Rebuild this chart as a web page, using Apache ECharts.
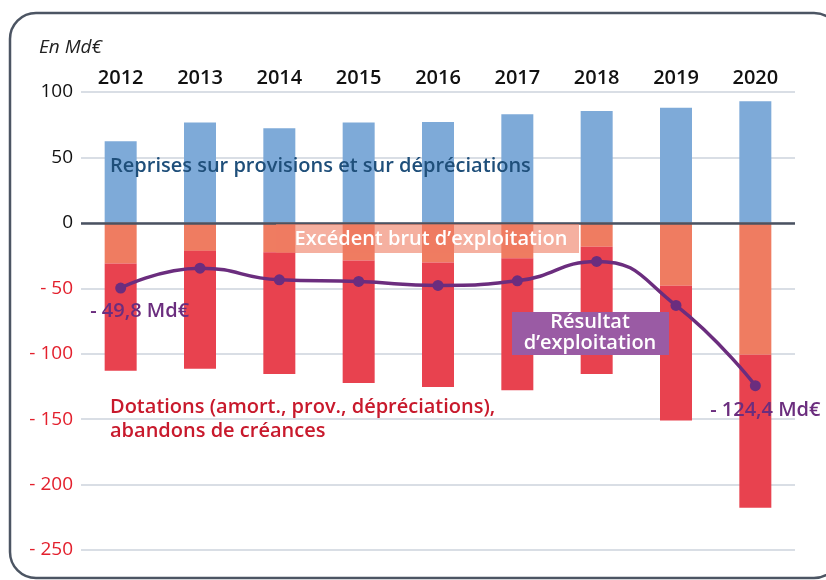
<!DOCTYPE html>
<html>
<head>
<meta charset="utf-8">
<script src="https://cdn.jsdelivr.net/npm/echarts@6/dist/echarts.min.js"></script>
<style>
  html, body { margin: 0; padding: 0; background: #fff; }
  #chart { width: 826px; height: 580px; }
</style>
</head>
<body>
<div id="chart"></div>
<script>
// Years shown along the top axis
const years = ['2012', '2013', '2014', '2015', '2016', '2017', '2018', '2019', '2020'];
// Reprises sur provisions et sur dépréciations (Md€)
const reprises = [62.4, 76.6, 72.3, 76.6, 77.1, 83.0, 85.5, 88.0, 92.9];
// Excédent brut d'exploitation (Md€)
const ebe = [-31.0, -21.4, -22.4, -28.8, -30.3, -27.0, -18.3, -48.1, -100.8];
// Dotations (amort., prov., dépréciations), abandons de créances (Md€)
const dotations = [-82.0, -90.1, -93.1, -93.6, -95.1, -101.0, -97.2, -102.9, -117.0];
// Résultat d'exploitation (Md€)
const resultat = [-49.8, -34.6, -43.5, -44.8, -47.8, -44.3, -29.5, -63.1, -124.4];
// Value axis ticks
const yTicks = { min: -250, max: 100, step: 50 };

const FONT = '"Open Sans", "Noto Sans", sans-serif';
const fmtNum = v => (v < 0 ? '- ' : '') + Math.abs(v).toString().replace('.', ',');

const chart = echarts.init(document.getElementById('chart'), null, { renderer: 'canvas' });

chart.setOption({
  animation: false,
  backgroundColor: '#ffffff',
  textStyle: { fontFamily: FONT },
  grid: { left: 81, right: 31, top: 92, bottom: 30, containLabel: false },
  xAxis: {
    type: 'category',
    data: years,
    position: 'top',
    axisLine: { show: false },
    axisTick: { show: false },
    axisLabel: { color: '#111', fontSize: 20, fontWeight: 600, margin: 4, fontFamily: FONT }
  },
  yAxis: {
    type: 'value',
    min: yTicks.min,
    max: yTicks.max,
    interval: yTicks.step,
    axisLine: { show: false },
    axisTick: { show: false },
    axisLabel: {
      fontSize: 19,
      margin: 8,
      fontFamily: FONT,
      formatter: v => (v < 0 ? '- ' + Math.abs(v) : String(v)),
      color: v => (Number(v) < 0 ? '#e3202d' : '#111')
    },
    splitLine: { lineStyle: { color: '#cdd3dc', width: 1.5 } }
  },
  series: [
    {
      name: 'Reprises sur provisions et sur dépréciations',
      type: 'bar',
      stack: 'total',
      data: reprises,
      barWidth: 32,
      itemStyle: { color: '#7eaad8' },
      markLine: {
        silent: true,
        symbol: 'none',
        label: { show: false },
        lineStyle: { color: '#4a5261', width: 2.5, type: 'solid' },
        data: [{ yAxis: 0 }],
        z: 5
      }
    },
    {
      name: "Excédent brut d'exploitation",
      type: 'bar',
      stack: 'total',
      data: ebe,
      barWidth: 32,
      itemStyle: { color: '#ef7c61' }
    },
    {
      name: 'Dotations',
      type: 'bar',
      stack: 'total',
      data: dotations,
      barWidth: 32,
      itemStyle: { color: '#e8424f' }
    },
    {
      name: "Résultat d'exploitation",
      type: 'line',
      data: resultat.map((v, i) => {
        const first = i === 0, last = i === resultat.length - 1;
        if (!first && !last) return v;
        return {
          value: v,
          label: {
            show: true,
            position: 'bottom',
            distance: first ? 8 : 9,
            offset: first ? [19, 0] : [10, 0],
            formatter: p => fmtNum(p.value) + ' Md€',
            color: '#6b2d7e',
            fontSize: 20,
            fontWeight: 600,
            fontFamily: FONT
          }
        };
      }),
      smooth: 0.5,
      symbol: 'circle',
      symbolSize: 11,
      lineStyle: { color: '#6b2d7e', width: 3.5 },
      itemStyle: { color: '#6b2d7e' },
      z: 10
    }
  ],
  graphic: [
    {
      type: 'rect',
      shape: { x: 10, y: 13, width: 830, height: 565, r: 26 },
      style: { fill: 'none', stroke: '#4c5563', lineWidth: 2.5 },
      silent: true,
      z: 0
    },
    {
      type: 'text',
      left: 39, top: 38,
      style: { text: 'En Md€', fontSize: 19, fontStyle: 'italic', fill: '#222', fontFamily: FONT },
      z: 20
    },
    {
      type: 'text',
      left: 110, top: 156,
      style: { text: 'Reprises sur provisions et sur dépréciations', fontSize: 20, fontWeight: 600, fill: '#1f4f7a', fontFamily: FONT },
      z: 20
    },
    {
      type: 'rect',
      shape: { x: 276, y: 224, width: 303, height: 29 },
      style: { fill: 'rgba(239,124,97,0.6)' },
      z: 20
    },
    {
      type: 'text',
      style: { x: 431, y: 239, text: "Excédent brut d’exploitation", align: 'center', verticalAlign: 'middle', fontSize: 20, fontWeight: 600, fill: '#fff', fontFamily: FONT },
      z: 21
    },
    {
      type: 'rect',
      shape: { x: 512, y: 312, width: 157, height: 43 },
      style: { fill: '#9a5ba4' },
      z: 20
    },
    {
      type: 'text',
      style: { x: 590, y: 333, text: "Résultat\nd’exploitation", align: 'center', verticalAlign: 'middle', lineHeight: 21, fontSize: 20, fontWeight: 600, fill: '#fff', fontFamily: FONT },
      z: 21
    },
    {
      type: 'text',
      left: 110, top: 395,
      style: { text: 'Dotations (amort., prov., dépréciations),\nabandons de créances', lineHeight: 24, fontSize: 20, fontWeight: 600, fill: '#c8192c', fontFamily: FONT },
      z: 20
    }
  ]
});
</script>
</body>
</html>
